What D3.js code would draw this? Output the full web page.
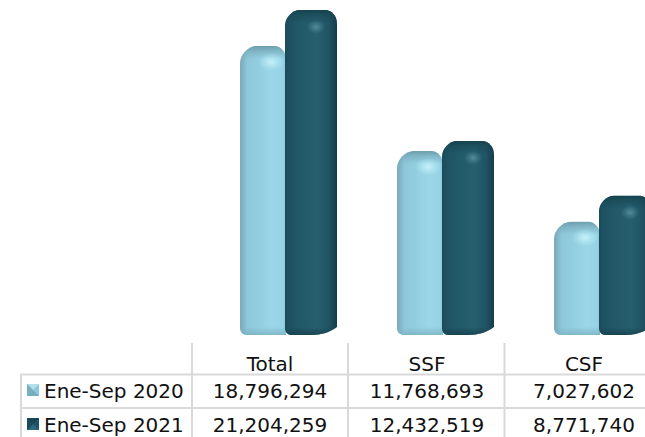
<!DOCTYPE html>
<html><head><meta charset="utf-8">
<script src="https://cdnjs.cloudflare.com/ajax/libs/d3/7.8.5/d3.min.js"></script>
<style>html,body{margin:0;padding:0;background:#fff}svg{display:block}text{font-family:"DejaVu Sans",Verdana,sans-serif;font-size:20px;fill:#111}</style>
</head><body><svg id="c" width="645" height="437"></svg>
<script>
const categories=["Total","SSF","CSF"];
const seriesNames=["Ene-Sep 2020","Ene-Sep 2021"];
const values2020=[18796294,11768693,7027602];
const values2021=[21204259,12432519,8771740];
const W=645,H=437;
const svg=d3.select("#c");
const defs=svg.append("defs");
const x=d3.scaleBand().domain(categories).range([191,662]);
const y=d3.scaleLinear().domain([0,21204259]).range([326.6,10]);
const palettes=[
 {side:[[0,"#7ea9b5"],[.06,"#7fb4c4"],[.16,"#8ec7d9"],[.45,"#93cfe0"],[.7,"#9ad6e7"],[.93,"#97d3e5"],[1,"#8cc6d8"]],top:"#6c9dac",hi:"#c8f4fc",bottom:"#7db5c6"},
 {side:[[0,"#1a4b5b"],[.1,"#1f5363"],[.35,"#235a6a"],[.62,"#265f6f"],[.85,"#205363"],[1,"#143c4a"]],top:"#15434f",hi:"#58909d",bottom:"#18424f"}
];
palettes.forEach((p,i)=>{
 const g=defs.append("linearGradient").attr("id","side"+i);
 p.side.forEach(s=>g.append("stop").attr("offset",s[0]).attr("stop-color",s[1]));
 const t=defs.append("linearGradient").attr("id","top"+i).attr("x1",0).attr("x2",0).attr("y1",0).attr("y2",1);
 t.append("stop").attr("offset",0).attr("stop-color",p.top).attr("stop-opacity",1);
 t.append("stop").attr("offset",.4).attr("stop-color",p.top).attr("stop-opacity",.5);
 t.append("stop").attr("offset",1).attr("stop-color",p.top).attr("stop-opacity",0);
 const h=defs.append("radialGradient").attr("id","hi"+i);
 h.append("stop").attr("offset",0).attr("stop-color",p.hi).attr("stop-opacity",.9);
 h.append("stop").attr("offset",.5).attr("stop-color",p.hi).attr("stop-opacity",.4);
 h.append("stop").attr("offset",1).attr("stop-color",p.hi).attr("stop-opacity",0);
 const b=defs.append("linearGradient").attr("id","bot"+i).attr("x1",0).attr("x2",0).attr("y1",0).attr("y2",1);
 b.append("stop").attr("offset",0).attr("stop-color",p.bottom).attr("stop-opacity",0);
 b.append("stop").attr("offset",1).attr("stop-color",p.bottom).attr("stop-opacity",.9);
});
defs.append("clipPath").attr("id","plot").append("rect").attr("width",W).attr("height",H);
const plot=svg.append("g").attr("clip-path","url(#plot)");
const barBottom=335;
const groupLeft=c=>x(c)+x.bandwidth()/2-29.5;
const widths=[46,52],offsets=[0,45];
function outline(l,w,t,i){
 const rl=i?15:17,rr=12;
 const p=d3.path();
 p.moveTo(l,barBottom-6);
 p.lineTo(l,t+rl);
 p.bezierCurveTo(l,t+rl*.5,l+rl*.5,t,l+rl,t);
 p.lineTo(l+w-rr,t);
 p.bezierCurveTo(l+w-rr*.45,t,l+w,t+rr*.5,l+w,t+rr*1.1);
 if(i){
  p.lineTo(l+w,barBottom-8);
  p.bezierCurveTo(l+w-6,barBottom-3,l+w-16,barBottom,l+w-26,barBottom);
  p.lineTo(l+7,barBottom);
  p.quadraticCurveTo(l+1,barBottom,l,barBottom-6);
 }else{
  p.lineTo(l+w,barBottom);
  p.lineTo(l+8,barBottom);
  p.quadraticCurveTo(l+1,barBottom,l,barBottom-6);
 }
 p.closePath();
 return p.toString();
}
[values2020,values2021].forEach((vals,i)=>{
 const g=plot.append("g");
 vals.forEach((v,j)=>{
  const l=groupLeft(categories[j])+offsets[i],w=widths[i],t=y(v);
  const d=outline(l,w,t,i);
  g.append("path").attr("d",d).attr("fill",`url(#side${i})`);
  const clip="b"+i+j;
  defs.append("clipPath").attr("id",clip).append("path").attr("d",d);
  const q=g.append("g").attr("clip-path",`url(#${clip})`);
  q.append("rect").attr("x",l).attr("y",t).attr("width",w).attr("height",13).attr("fill",`url(#top${i})`);
  q.append("rect").attr("x",l).attr("y",barBottom-8).attr("width",w).attr("height",8).attr("fill",`url(#bot${i})`);
  q.append("ellipse").attr("cx",l+(i?31:31)).attr("cy",t+(i?17:16)).attr("rx",i?9:13).attr("ry",i?7:9).attr("fill",`url(#hi${i})`);
 });
});
// table
const grid="#d9d9d9";
const rowLines=[374.5,408];
const colLines=[192,348,504.5];
const tbl=svg.append("g");
tbl.selectAll("line.h").data(rowLines).join("line").attr("x1",20).attr("x2",W).attr("y1",d=>d).attr("y2",d=>d).attr("stroke",grid).attr("stroke-width",2);
tbl.selectAll("line.v").data(colLines).join("line").attr("x1",d=>d).attr("x2",d=>d).attr("y1",343).attr("y2",437).attr("stroke",grid).attr("stroke-width",2);
tbl.append("line").attr("x1",21).attr("x2",21).attr("y1",374).attr("y2",437).attr("stroke",grid).attr("stroke-width",2);
categories.forEach(c=>tbl.append("text").attr("x",x(c)+x.bandwidth()/2+.5).attr("y",371).attr("text-anchor","middle").text(c));
const fmt=d3.format(",");
[values2020,values2021].forEach((vals,i)=>{
 const by=[398,432][i];
 tbl.append("text").attr("x",44).attr("y",by).text(seriesNames[i]);
 const sw=tbl.append("g");
 const sy=by-14;
 sw.append("rect").attr("x",27).attr("y",sy).attr("width",12).attr("height",12).attr("fill",i?"#1f5363":"#8ec8da");
 const fr=[[[27,sy],[39,sy],[33,sy+6]],[[27,sy+12],[39,sy+12],[33,sy+6]],[[27,sy],[27,sy+12],[33,sy+6]]];
 const cols=i?["#174553","#2c6878","#1a4c5c"]:["#b4e0ec","#76adbd","#7aaebd"];
 fr.forEach((pts,k)=>sw.append("path").attr("d",d3.line()(pts)+"Z").attr("fill",cols[k]));
 vals.forEach((v,j)=>tbl.append("text").attr("x",x(categories[j])+x.bandwidth()/2+.5).attr("y",by).attr("text-anchor","middle").text(fmt(v)));
});
</script></body></html>
